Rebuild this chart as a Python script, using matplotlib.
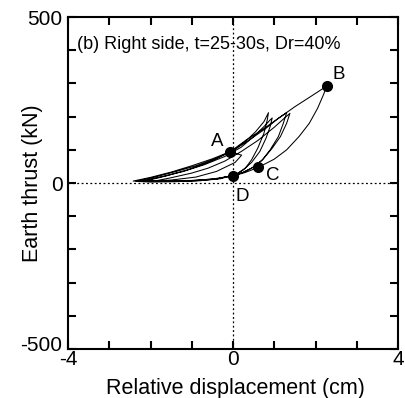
import numpy as np
import matplotlib
matplotlib.use("Agg")
import matplotlib.pyplot as plt
from matplotlib.transforms import ScaledTranslation

plt.rcParams['font.family'] = ['Liberation Sans', 'DejaVu Sans']
plt.rcParams['axes.unicode_minus'] = False

# =========================================================
# Hysteresis path (relative displacement cm, earth thrust kN)
loop_x = [-0.07, 0.21, 0.05, -0.4, -0.9, -1.5, -2.0, -2.42,
          -2.0, -1.5, -1.0, -0.5, 0.0, 0.3, 0.55, 0.75, 0.86,
          0.83, 0.75, 0.6, 0.45, 0.3, 0.1, -0.3, -0.8, -1.4, -2.0, -2.35,
          -1.9, -1.4, -0.9, -0.4, 0.0, 0.4, 0.8, 1.1, 1.30,
          1.22, 1.1, 0.9, 0.7, 0.45, 0.2, 0.0, -0.5, -1.1, -1.7, -2.2,
          -1.7, -1.2, -0.7, -0.2, 0.2, 0.5, 0.75, 0.9, 0.95,
          0.9, 0.8, 0.65, 0.45, 0.25, 0.05, -0.4, -0.9, -1.5, -1.9,
          -1.5, -1.0, -0.6, -0.2, 0.2, 0.6, 1.0, 1.25, 1.38,
          1.3, 1.15, 0.95, 0.73, 0.5, 0.25, 0.0, -0.4, -0.9, -1.5, -2.1,
          -1.6, -1.1, -0.6, -0.07,
          0.3, 0.7, 1.1, 1.5, 1.9, 2.27,
          2.2, 2.05, 1.85, 1.6, 1.3, 1.0, 0.61, 0.3, 0.0]
loop_y = [94, 84, 62, 35, 18, 9, 6, 6,
          17, 33, 52, 73, 98, 125, 155, 185, 212,
          190, 150, 105, 70, 45, 27, 13, 7, 4, 3, 5,
          18, 34, 52, 74, 98, 130, 165, 195, 212,
          180, 140, 100, 68, 45, 30, 22, 12, 7, 5, 6,
          20, 35, 55, 80, 108, 140, 170, 190, 196,
          170, 135, 95, 62, 40, 25, 12, 7, 5, 6,
          16, 30, 45, 66, 95, 128, 168, 196, 210,
          180, 140, 105, 72, 48, 32, 22, 13, 8, 5, 7,
          22, 40, 62, 94,
          128, 160, 195, 230, 262, 292,
          268, 225, 180, 140, 100, 72, 47, 32, 21]

# Marked states
pt_labels = ['A', 'B', 'C', 'D']
pt_x = [-0.07, 2.27, 0.61, 0.01]
pt_y = [94, 292, 47, 21]
lab_x = [-0.38, 2.57, 0.97, 0.23]
lab_y = [126, 327, 24, -41]

fig = plt.figure(figsize=(4.06, 3.98), dpi=100)
ax = fig.add_axes([0.1675, 0.1231, 0.8128, 0.834])

ax.axhline(0, color='black', linestyle=(0, (1.5, 2)), linewidth=0.9)
ax.axvline(0, color='black', linestyle=(0, (1.5, 2)), linewidth=0.9)

ax.plot(loop_x, loop_y, color='black', linewidth=0.75)
ax.plot(pt_x, pt_y, 'o', color='black', markersize=7, linestyle='none')

for lab, x, y in zip(pt_labels, lab_x, lab_y):
    ax.text(x, y, lab, fontsize=13.5, ha='center', va='center')

ax.text(0.027, 416, '(b) Right side, t=25-30s, Dr=40%', fontsize=13,
        ha='left', va='center', transform=ax.get_yaxis_transform())

ax.set_xlim(-4, 4)
ax.set_ylim(-500, 500)
ax.set_xticks([-4, 0, 4])
ax.set_xticks(np.arange(-4, 5, 1), minor=True)
ax.set_yticks([-500, 0, 500])
ax.set_yticks(np.arange(-500, 501, 100), minor=True)
ax.tick_params(which='both', direction='in', top=True, right=True, width=1.5,
               length=6, labelsize=15)
ax.tick_params(axis='x', pad=1)
ax.tick_params(axis='y', pad=4)
for s in ax.spines.values():
    s.set_linewidth(1.5)

# lift the bottom y label a little so it clears the -4
ylabs = ax.get_yticklabels()
ylabs[0].set_transform(ylabs[0].get_transform() + ScaledTranslation(0, 6 / 100, fig.dpi_scale_trans))

ax.set_xlabel('Relative displacement (cm)', fontsize=15.5)
ax.set_ylabel('Earth thrust (kN)', fontsize=15.5)
ax.xaxis.set_label_coords(0.506, -0.088)
ax.yaxis.set_label_coords(-0.076, 0.5)

fig.savefig('out.png', dpi=100)
